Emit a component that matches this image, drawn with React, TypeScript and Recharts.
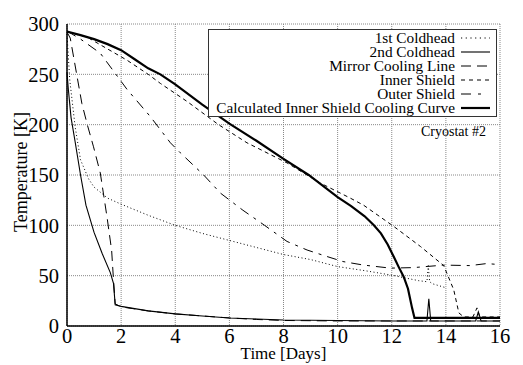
import { CartesianGrid, Label, Line, LineChart, XAxis, YAxis } from "recharts";

const dayTicks = [0, 2, 4, 6, 8, 10, 12, 14, 16];
const tempTicks = [0, 50, 100, 150, 200, 250, 300];

// 1st Coldhead (dotted)
const coldhead1Days = [0, 0.1, 0.3, 0.5, 0.8, 1.0, 1.5, 2, 3, 4, 5, 6, 7, 8, 9, 10, 11, 12, 13, 13.3, 13.35, 13.4, 13.5, 14];
const coldhead1Temp = [290, 245, 198, 165, 146, 138, 127, 121, 110, 100, 92, 85, 78, 71, 66, 59, 55, 50.5, 45, 44, 60, 44, 42, 38];

// 2nd Coldhead (thin solid)
const coldhead2Days = [0, 0.05, 0.15, 0.3, 0.5, 0.7, 1.0, 1.3, 1.6, 1.72, 1.78, 2, 3, 4, 5, 6, 7, 8, 10, 12, 13.3, 13.37, 13.44, 15.1, 15.2, 15.3, 16];
const coldhead2Temp = [252, 235, 207, 183, 150, 120, 93, 72, 53, 42, 21, 19.5, 15, 12, 10, 8, 7, 6, 5.5, 5, 5, 27, 5, 5, 14, 5, 5];

// Mirror Cooling Line (long dash)
const mirrorDays = [0, 0.12, 0.55, 0.75, 0.98, 1.23, 1.48, 1.65, 1.72, 1.78, 2, 3, 4, 5, 6, 7, 8, 10, 12, 14, 16];
const mirrorTemp = [292, 286, 221, 200, 178, 152, 108, 75, 45, 22, 19, 15, 12, 10, 8, 6.5, 5.5, 5, 5, 5, 5];

// Inner Shield (short dash)
const innerDays = [0, 0.74, 2.22, 3.0, 3.45, 4.44, 5.6, 6.65, 8.13, 9.36, 10.47, 10.96, 12.07, 13.06, 13.92, 14.29, 14.48, 14.66, 15, 15.15, 15.25, 16];
const innerTemp = [292, 287, 264, 250, 241, 223, 200, 182, 162, 142, 127, 120, 99, 79, 60, 36, 13, 9, 9, 18, 9, 9];

// Outer Shield (dash-dot)
const outerDays = [0, 0.5, 1.23, 2.22, 3.08, 3.82, 4.19, 5.05, 5.67, 6.5, 7.3, 8.13, 8.87, 9.61, 10.2, 10.96, 11.95, 12.8, 13.92, 14.9, 15.5, 16];
const outerTemp = [293, 285, 271, 235, 208, 182, 172, 150, 132, 115, 100, 84, 75.5, 69, 64, 60.5, 57.5, 58, 60.5, 60, 62, 61];

// Calculated Inner Shield Cooling Curve (thick solid)
const calcDays = [0, 0.5, 1, 1.5, 2, 2.5, 3, 3.45, 4, 5, 6, 7, 8, 8.93, 10, 10.5, 11, 11.34, 11.6, 11.85, 12.07, 12.25, 12.44, 12.6, 12.75, 12.84, 14, 16];
const calcTemp = [292.5, 289, 285, 280, 274, 265, 256, 250, 240, 220, 201, 184, 166, 150, 128, 119, 109, 100, 92, 81, 69, 59, 49, 37, 18, 8, 8, 8];

const toPoints = (days: number[], temps: number[]) => days.map((d, i) => ({ day: d, temp: temps[i] }));

const series = [
  { name: "1st Coldhead", data: toPoints(coldhead1Days, coldhead1Temp), dash: "1 2.5", width: 1, sample: "1.2 3.5" },
  { name: "2nd Coldhead", data: toPoints(coldhead2Days, coldhead2Temp), dash: undefined, width: 1.1, sample: undefined },
  { name: "Mirror Cooling Line", data: toPoints(mirrorDays, mirrorTemp), dash: "10 6", width: 1, sample: "10 6" },
  { name: "Inner Shield", data: toPoints(innerDays, innerTemp), dash: "4 3.5", width: 1, sample: "4 4" },
  { name: "Outer Shield", data: toPoints(outerDays, outerTemp), dash: "10 6 3 6", width: 1, sample: "10 7 3 9" },
  { name: "Calculated Inner Shield Cooling Curve", data: toPoints(calcDays, calcTemp), dash: undefined, width: 2.2, sample: undefined },
];

const serif = "'Liberation Serif'";

const YTitle = ({ viewBox }: any) => {
  const cx = viewBox.x + 21;
  const cy = viewBox.y + viewBox.height / 2 - 3;
  return (
    <text x={cx} y={cy} dy="0.35em" transform={`rotate(-90 ${cx} ${cy})`} textAnchor="middle" fontSize={18} fontFamily={serif} fill="#000">
      Temperature [K]
    </text>
  );
};

export default function App() {
  return (
    <div style={{ position: "absolute", left: 0, top: 0, width: 523, height: 365, background: "#fff", fontFamily: serif }}>
      <LineChart width={523} height={365} data={series[0].data} margin={{ top: 24, right: 23, bottom: 5, left: 0 }}>
        <CartesianGrid stroke="#888" strokeDasharray="1 1" />
        <XAxis
          dataKey="day"
          type="number"
          domain={[0, 16]}
          ticks={dayTicks}
          height={34}
          tickSize={1}
          tickMargin={1}
          tickLine={false}
          axisLine={{ stroke: "#000", strokeWidth: 1.5 }}
          tick={{ fontSize: 20.5, fill: "#000", fontFamily: serif }}
          interval={0}
        >
          <Label value="Time [Days]" position="insideBottom" offset={1} fontSize={17} fontFamily={serif} fill="#000" />
        </XAxis>
        <XAxis
          xAxisId="top"
          orientation="top"
          dataKey="day"
          type="number"
          domain={[0, 16]}
          ticks={dayTicks}
          height={0}
          mirror
          tick={false}
          tickSize={4}
          tickLine={{ stroke: "#000" }}
          axisLine={{ stroke: "#000", strokeWidth: 2 }}
        />
        <YAxis
          type="number"
          domain={[0, 300]}
          ticks={tempTicks}
          width={67}
          tickLine={false}
          axisLine={{ stroke: "#000", strokeWidth: 1.5 }}
          tick={{ fontSize: 20.5, fill: "#000", fontFamily: serif }}
          interval={0}
          label={<YTitle />}
        />
        <YAxis
          yAxisId="right"
          orientation="right"
          type="number"
          domain={[0, 300]}
          ticks={tempTicks}
          width={0}
          mirror
          tick={false}
          tickSize={4}
          tickLine={{ stroke: "#000" }}
          axisLine={{ stroke: "#000", strokeWidth: 1.5 }}
        />
        {series.map((s) => (
          <Line
            key={s.name}
            data={s.data}
            dataKey="temp"
            name={s.name}
            type="linear"
            stroke="#000"
            strokeWidth={s.width}
            strokeDasharray={s.dash}
            dot={false}
            activeDot={false}
            isAnimationActive={false}
          />
        ))}
      </LineChart>

      <div
        style={{
          position: "absolute",
          left: 208,
          top: 29,
          width: 289,
          height: 88,
          boxSizing: "border-box",
          border: "1.5px solid #333",
          background: "#fff",
          paddingTop: 1,
        }}
      >
        {series.map((s) => (
          <div
            key={s.name}
            style={{
              display: "flex",
              justifyContent: "flex-end",
              alignItems: "center",
              height: 14,
              paddingRight: 5,
              whiteSpace: "nowrap",
            }}
          >
            <span style={{ display: "inline-block", height: 14, lineHeight: "14px", fontFamily: serif, fontSize: 15.3, overflow: "visible" }}>
              {s.name}
            </span>
            <svg width={30} height={8} style={{ marginLeft: 6 }}>
              <line x1={0} y1={4} x2={29} y2={4} stroke="#000" strokeWidth={s.width} strokeDasharray={s.sample} />
            </svg>
          </div>
        ))}
      </div>

      <div style={{ position: "absolute", left: 421, top: 125, fontFamily: serif, fontSize: 14, lineHeight: "14px", whiteSpace: "nowrap" }}>
        Cryostat #2
      </div>
    </div>
  );
}
